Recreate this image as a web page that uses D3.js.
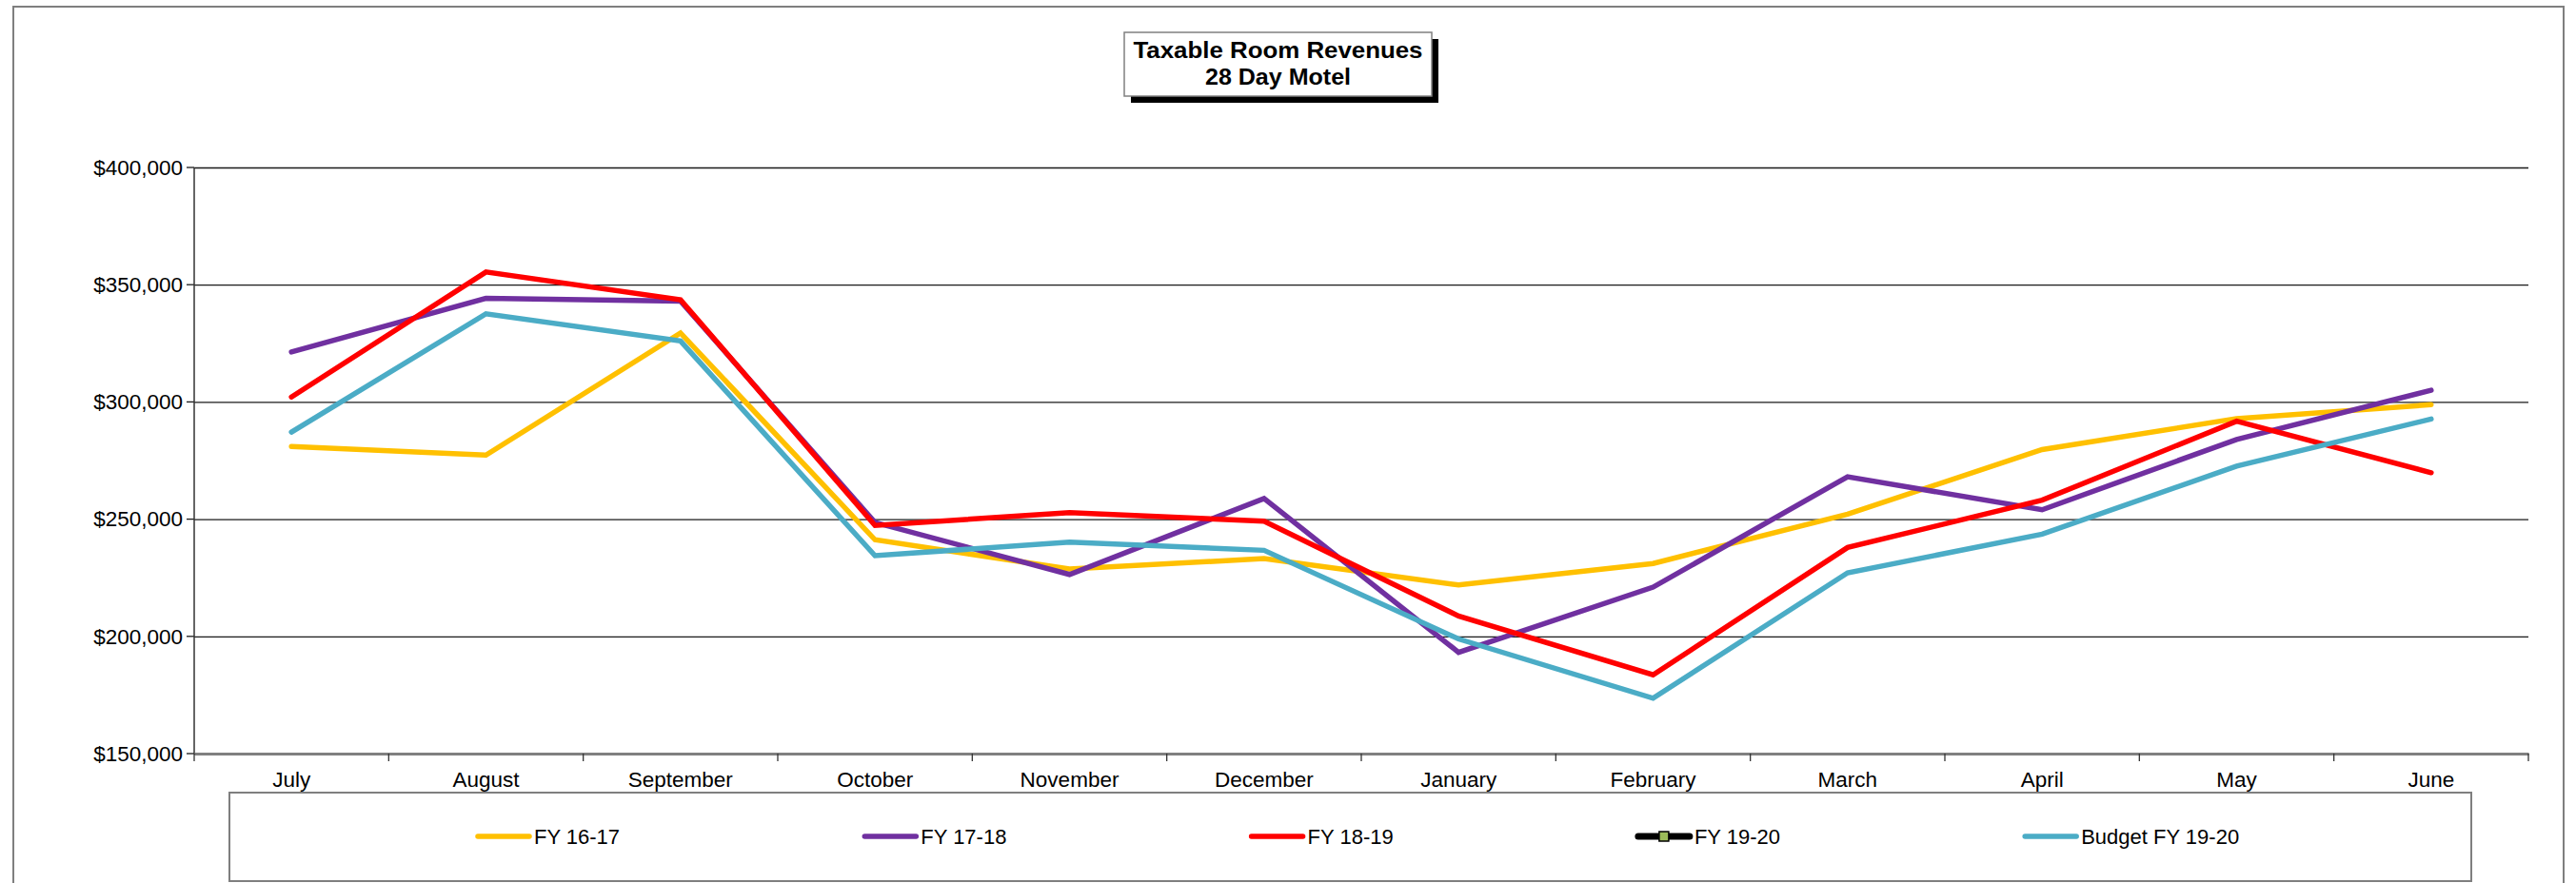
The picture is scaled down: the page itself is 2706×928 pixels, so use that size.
<!DOCTYPE html>
<html>
<head>
<meta charset="utf-8">
<script src="https://cdn.jsdelivr.net/npm/d3@7"></script>
<style>
    body { margin: 0; background: #fff; }
    text { font-family: Arial, "Liberation Sans", sans-serif; fill: #000; }
    .grid line { stroke: #1a1a1a; stroke-width: 1.3; }
    .grid path { display: none; }
    .series { fill: none; stroke-width: 5.5; stroke-linecap: round; stroke-linejoin: miter; }
</style>
</head>
<body>
<svg id="chart"></svg>
<script>
var months = ['July', 'August', 'September', 'October', 'November', 'December',
    'January', 'February', 'March', 'April', 'May', 'June'];
var yTicks = [150000, 200000, 250000, 300000, 350000, 400000];

var fy1617 = [281000, 277300, 329400, 241200, 228700, 233200, 221900, 231100, 252100, 279700, 292900, 298800];
var fy1718 = [321300, 344200, 343000, 248600, 226400, 258800, 193200, 221000, 268100, 254000, 284000, 305000];
var fy1819 = [302100, 355400, 343600, 247300, 252800, 249100, 208700, 183600, 237900, 258100, 291800, 269800];
var fy1920 = [];
var budget1920 = [287100, 337600, 326000, 234400, 240200, 236700, 198900, 173600, 227100, 243600, 272600, 292700];

var seriesNames = ['FY 16-17', 'FY 17-18', 'FY 18-19', 'FY 19-20', 'Budget FY 19-20'];
var seriesValues = [fy1617, fy1718, fy1819, fy1920, budget1920];
var seriesColors = ['#FFC000', '#7030A0', '#FF0000', '#000000', '#4BACC6'];

var W = 2706, H = 928;
var margin = {top: 176, right: 50, bottom: 136, left: 204};

var svg = d3.select('#chart')
    .attr('width', W)
    .attr('height', H);

// outer frame
svg.append('rect')
    .attr('x', 14).attr('y', 7)
    .attr('width', 2679).attr('height', 960)
    .attr('fill', 'none')
    .attr('stroke', '#7f7f7f')
    .attr('stroke-width', 2);

var xScale = d3.scaleBand()
    .domain(months)
    .range([margin.left, W - margin.right]);

var yScale = d3.scaleLinear()
    .domain([150000, 400000])
    .range([H - margin.bottom, margin.top]);

// gridlines + y labels
svg.append('g')
    .attr('class', 'grid')
    .attr('transform', `translate(${margin.left}, 0)`)
    .call(d3.axisLeft(yScale)
        .tickValues(yTicks)
        .tickSize(-(W - margin.left - margin.right))
        .tickPadding(12)
        .tickFormat(d3.format('$,')))
    .selectAll('text')
    .style('font-size', '22.5px');

// y tick stubs on the left of the axis
svg.append('g')
    .selectAll('line')
    .data(yTicks)
    .enter()
    .append('line')
    .attr('x1', margin.left - 8)
    .attr('x2', margin.left)
    .attr('y1', d => yScale(d))
    .attr('y2', d => yScale(d))
    .attr('stroke', '#1a1a1a')
    .attr('stroke-width', 1.3);

// y axis line
svg.append('line')
    .attr('x1', margin.left).attr('x2', margin.left)
    .attr('y1', yScale(400000)).attr('y2', yScale(150000))
    .attr('stroke', '#333')
    .attr('stroke-width', 1.5);

// x axis labels (band centres)
var xAxis = svg.append('g')
    .attr('transform', `translate(0, ${yScale(150000)})`)
    .call(d3.axisBottom(xScale).tickSize(0).tickPadding(19));
xAxis.select('.domain')
    .attr('stroke', '#808080')
    .attr('stroke-width', 3);
xAxis.selectAll('text').style('font-size', '22.5px');

// x ticks sit between the categories
svg.append('g')
    .selectAll('line')
    .data(d3.range(months.length + 1))
    .enter()
    .append('line')
    .attr('x1', i => xScale.range()[0] + i * xScale.step())
    .attr('x2', i => xScale.range()[0] + i * xScale.step())
    .attr('y1', yScale(150000))
    .attr('y2', yScale(150000) + 8)
    .attr('stroke', '#333')
    .attr('stroke-width', 1.3);

var line = d3.line()
    .x((d, i) => xScale(months[i]) + xScale.bandwidth() / 2)
    .y(d => yScale(d));

seriesValues.forEach((vals, k) => {
    if (!vals.length) return;
    svg.append('path')
        .attr('class', 'series')
        .attr('stroke', seriesColors[k])
        .attr('d', line(vals));
});

// title box with shadow
var tb = {x: 1181, y: 34, w: 323, h: 67};
svg.append('rect')
    .attr('x', tb.x + 7).attr('y', tb.y + 7)
    .attr('width', tb.w).attr('height', tb.h)
    .attr('fill', '#000');
svg.append('rect')
    .attr('x', tb.x).attr('y', tb.y)
    .attr('width', tb.w).attr('height', tb.h)
    .attr('fill', '#fff')
    .attr('stroke', '#808080')
    .attr('stroke-width', 1.5);
svg.append('text')
    .attr('x', tb.x + tb.w / 2).attr('y', 61)
    .attr('text-anchor', 'middle')
    .attr('textLength', 304)
    .attr('lengthAdjust', 'spacingAndGlyphs')
    .style('font-size', '24px')
    .style('font-weight', 'bold')
    .text('Taxable Room Revenues');
svg.append('text')
    .attr('x', tb.x + tb.w / 2).attr('y', 89)
    .attr('text-anchor', 'middle')
    .attr('textLength', 153)
    .attr('lengthAdjust', 'spacingAndGlyphs')
    .style('font-size', '24px')
    .style('font-weight', 'bold')
    .text('28 Day Motel');

// legend
svg.append('rect')
    .attr('x', 241).attr('y', 833)
    .attr('width', 2355).attr('height', 93)
    .attr('fill', '#fff')
    .attr('stroke', '#7f7f7f')
    .attr('stroke-width', 2);

var legendY = 879;
var legend = svg.append('g')
    .selectAll('g')
    .data(seriesNames)
    .enter()
    .append('g')
    .attr('transform', (d, i) => `translate(${502 + i * 406.3}, ${legendY})`);

legend.append('line')
    .attr('x1', 0).attr('x2', 54)
    .attr('stroke', (d, i) => seriesColors[i])
    .attr('stroke-width', (d, i) => i === 3 ? 7 : 5.5)
    .attr('stroke-linecap', 'round');

legend.filter((d, i) => i === 3)
    .append('rect')
    .attr('x', 22).attr('y', -5)
    .attr('width', 10).attr('height', 10)
    .attr('fill', '#9BBB59')
    .attr('stroke', '#000')
    .attr('stroke-width', 1.5);

legend.append('text')
    .attr('x', 59)
    .attr('dy', '0.35em')
    .style('font-size', '22px')
    .text(d => d);
</script>
</body>
</html>
